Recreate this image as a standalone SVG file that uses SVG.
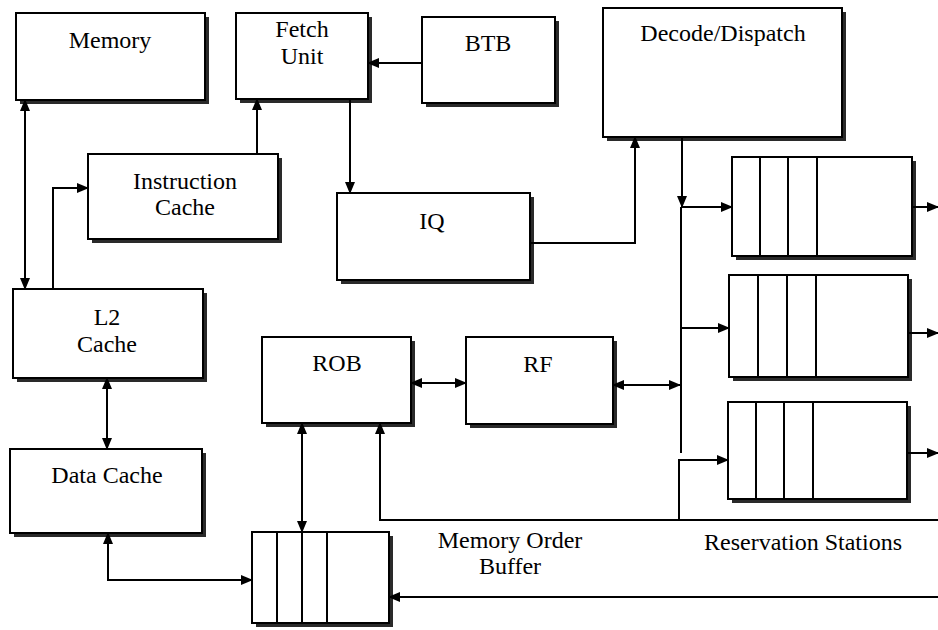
<svg xmlns="http://www.w3.org/2000/svg" width="938" height="630" viewBox="0 0 938 630">
<style>
.box{fill:#fff;stroke:#000;stroke-width:2}
.sh{fill:#2a2a2a}
.div{stroke:#000;stroke-width:2}
.t{font-family:"Liberation Serif","Times New Roman",serif;font-size:24px;fill:#000;text-anchor:middle}
.c{fill:none;stroke:#000;stroke-width:2}
</style>
<defs>
<marker id="ah" viewBox="0 0 12 10" refX="11" refY="5" markerWidth="12" markerHeight="10" markerUnits="userSpaceOnUse" orient="auto-start-reverse">
<path d="M0,0 L12,5 L0,10 Z" fill="#000"/>
</marker>
</defs>
<rect width="938" height="630" fill="#fff"/>

<g id="memory"><rect class="sh" x="20" y="17" width="189" height="87"/><rect class="box" x="16" y="13" width="189" height="87"/><text class="t" x="110" y="48">Memory</text></g>
<g id="fetch"><rect class="sh" x="240" y="17" width="132" height="86"/><rect class="box" x="236" y="13" width="132" height="86"/><text class="t" x="302" y="37">Fetch</text><text class="t" x="302" y="64">Unit</text></g>
<g id="btb"><rect class="sh" x="426" y="21" width="133" height="86"/><rect class="box" x="422" y="17" width="133" height="86"/><text class="t" x="488" y="51">BTB</text></g>
<g id="decode"><rect class="sh" x="607" y="12" width="239" height="129"/><rect class="box" x="603" y="8" width="239" height="129"/><text class="t" x="723" y="41">Decode/Dispatch</text></g>
<g id="icache"><rect class="sh" x="92" y="158" width="190" height="85"/><rect class="box" x="88" y="154" width="190" height="85"/><text class="t" x="185" y="189">Instruction</text><text class="t" x="185" y="215">Cache</text></g>
<g id="iq"><rect class="sh" x="341" y="197" width="193" height="87"/><rect class="box" x="337" y="193" width="193" height="87"/><text class="t" x="432" y="229">IQ</text></g>
<g id="l2"><rect class="sh" x="17" y="293" width="190" height="89"/><rect class="box" x="13" y="289" width="190" height="89"/><text class="t" x="107" y="325">L2</text><text class="t" x="107" y="352">Cache</text></g>
<g id="rob"><rect class="sh" x="266" y="341" width="149" height="86"/><rect class="box" x="262" y="337" width="149" height="86"/><text class="t" x="337" y="371">ROB</text></g>
<g id="rf"><rect class="sh" x="470" y="341" width="147" height="87"/><rect class="box" x="466" y="337" width="147" height="87"/><text class="t" x="538" y="372">RF</text></g>
<g id="dcache"><rect class="sh" x="14" y="453" width="192" height="84"/><rect class="box" x="10" y="449" width="192" height="84"/><text class="t" x="107" y="483">Data Cache</text></g>
<g id="mob"><rect class="sh" x="256" y="536" width="137" height="91"/><rect class="box" x="252" y="532" width="137" height="91"/><line class="div" x1="277" y1="532" x2="277" y2="623"/><line class="div" x1="302" y1="532" x2="302" y2="623"/><line class="div" x1="327" y1="532" x2="327" y2="623"/></g>
<g id="rs1"><rect class="sh" x="736" y="161" width="180" height="99"/><rect class="box" x="732" y="157" width="180" height="99"/><line class="div" x1="760" y1="157" x2="760" y2="256"/><line class="div" x1="788" y1="157" x2="788" y2="256"/><line class="div" x1="817" y1="157" x2="817" y2="256"/></g>
<g id="rs2"><rect class="sh" x="733" y="279" width="179" height="102"/><rect class="box" x="729" y="275" width="179" height="102"/><line class="div" x1="758" y1="275" x2="758" y2="377"/><line class="div" x1="787" y1="275" x2="787" y2="377"/><line class="div" x1="816" y1="275" x2="816" y2="377"/></g>
<g id="rs3"><rect class="sh" x="732" y="406" width="179" height="97"/><rect class="box" x="728" y="402" width="179" height="97"/><line class="div" x1="756" y1="402" x2="756" y2="499"/><line class="div" x1="784" y1="402" x2="784" y2="499"/><line class="div" x1="813" y1="402" x2="813" y2="499"/></g>
<g id="labels"><text class="t" x="510" y="548">Memory Order</text><text class="t" x="510" y="574">Buffer</text><text class="t" x="803" y="550">Reservation Stations</text></g>

<g id="connectors">
<path class="c" d="M25,100 V289" marker-start="url(#ah)" marker-end="url(#ah)"/>
<path class="c" d="M53,289 V188 H88" marker-end="url(#ah)"/>
<path class="c" d="M257,154 V99" marker-end="url(#ah)"/>
<path class="c" d="M422,63 H368" marker-end="url(#ah)"/>
<path class="c" d="M350,99 V193" marker-end="url(#ah)"/>
<path class="c" d="M530,243 H635 V137" marker-end="url(#ah)"/>
<path class="c" d="M682,137 V207" marker-end="url(#ah)"/>
<path class="c" d="M681,207 V453"/>
<path class="c" d="M681,207 H732" marker-end="url(#ah)"/>
<path class="c" d="M681,328 H729" marker-end="url(#ah)"/>
<path class="c" d="M613,385 H680" marker-start="url(#ah)" marker-end="url(#ah)"/>
<path class="c" d="M679,520 V460 H728" marker-end="url(#ah)"/>
<path class="c" d="M912,207 H938" marker-end="url(#ah)"/>
<path class="c" d="M908,333 H938" marker-end="url(#ah)"/>
<path class="c" d="M907,453 H938" marker-end="url(#ah)"/>
<path class="c" d="M938,520 H380 V423" marker-end="url(#ah)"/>
<path class="c" d="M938,597 H389" marker-end="url(#ah)"/>
<path class="c" d="M411,383 H466" marker-start="url(#ah)" marker-end="url(#ah)"/>
<path class="c" d="M302,423 V532" marker-start="url(#ah)" marker-end="url(#ah)"/>
<path class="c" d="M107,378 V449" marker-start="url(#ah)" marker-end="url(#ah)"/>
<path class="c" d="M108,533 V580 H252" marker-start="url(#ah)" marker-end="url(#ah)"/>
</g>
</svg>
